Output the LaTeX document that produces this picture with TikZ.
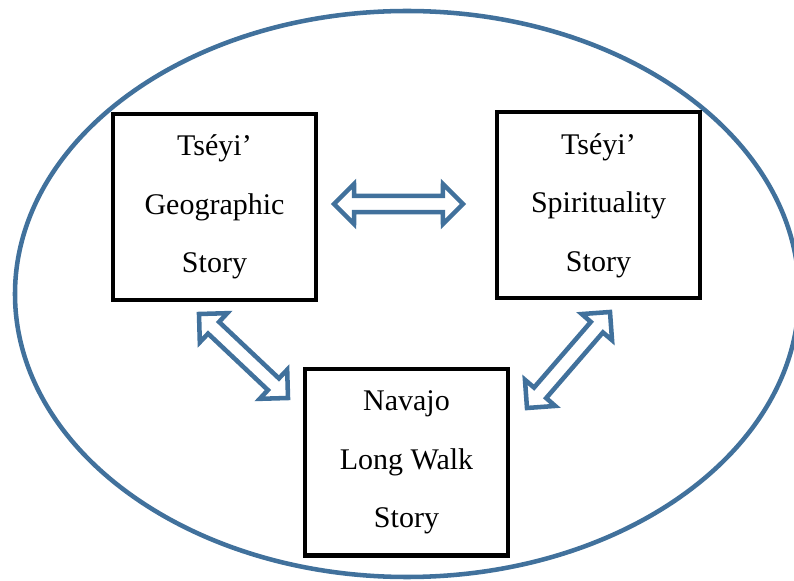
\documentclass[tikz,border=0pt]{standalone}
\usepackage{fontspec}
\setmainfont{Liberation Serif}
\usepackage{tikz}
\usetikzlibrary{calc}
\definecolor{ringblue}{HTML}{41719C}

\tikzset{
  storybox/.style={draw=black, line width=3pt, minimum width=152pt, minimum height=139.5pt,
    inner sep=0pt, align=center, font=\fontsize{22.5}{44}\selectfont},
  linkarrow/.style={draw=ringblue, line width=3.4pt, line join=miter, fill=white},
}
% hollow two-headed arrow between two named points
\newcommand{\linkarrow}[2]{%
  \draw[linkarrow] (#1) -- ($(#1)!21.2pt!45:(#2)$) -- ($(#1)!16.2pt!21.8:(#2)$)
    -- ($(#2)!16.2pt!-21.8:(#1)$) -- ($(#2)!21.2pt!-45:(#1)$) -- (#2)
    -- ($(#2)!21.2pt!45:(#1)$) -- ($(#2)!16.2pt!21.8:(#1)$)
    -- ($(#1)!16.2pt!-21.8:(#2)$) -- ($(#1)!21.2pt!-45:(#2)$) -- cycle;
}

\begin{document}
\begin{tikzpicture}[x=0.75pt, y=-0.75pt]
  \useasboundingbox (0,0) rectangle (794,581);
  \draw[ringblue, line width=3.4pt] (407,294) ellipse [x radius=294pt, y radius=212.25pt];

  \node[storybox] (geo) at (214.5,207) {Tséyi’\\Geographic\\Story};
  \node[storybox] (spirit) at (598.5,205.5) {Tséyi’\\Spirituality\\Story};
  \node[storybox] (walk) at (406.5,462.5) {Navajo\\Long Walk\\Story};

  % arrow ends
  \coordinate (gs1) at (334,204);
  \coordinate (gs2) at (463,204);
  \coordinate (gw1) at (199,314);
  \coordinate (gw2) at (288,398);
  \coordinate (sw1) at (610,312);
  \coordinate (sw2) at (527,408);

  \linkarrow{gs1}{gs2}
  \linkarrow{gw1}{gw2}
  \linkarrow{sw1}{sw2}
\end{tikzpicture}
\end{document}
